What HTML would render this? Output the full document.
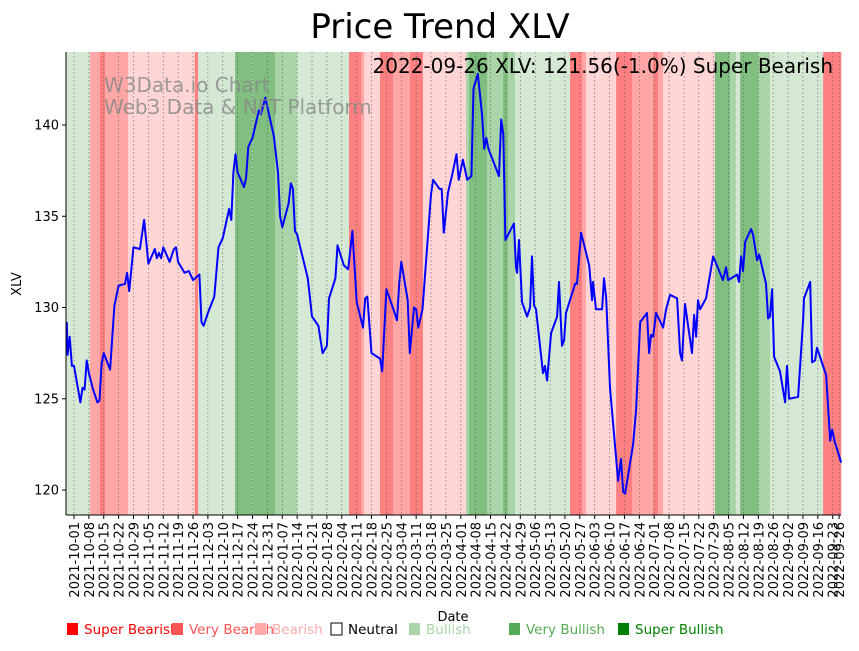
<!DOCTYPE html>
<html><head><meta charset="utf-8"><style>
body{margin:0;background:#fff;font-family:"Liberation Sans","DejaVu Sans",sans-serif}
svg text{font-family:"DejaVu Sans","Liberation Sans",sans-serif}
</style></head><body>
<svg id="c" width="859" height="646" xmlns="http://www.w3.org/2000/svg"></svg>
<script>
const startDate = new Date(Date.UTC(2021,9,1));
const priceDays = [-3.4,-3,-2,-1,0,3,4,5,6,7,9,11,12,13,14,17,19,21,24,25,26,28,31,33,35,38,39,40,41,42,45,47,48,49,52,54,56,59,60,61,63,66,68,70,73,74,75,76,77,80,81,82,84,87,88,90,94,96,97,98,101,102,103,104,105,110,112,115,117,119,120,123,124,127,129,131,133,136,137,138,140,144,145,147,150,152,153,154,157,158,160,161,162,164,168,169,172,173,174,176,178,180,181,183,185,187,188,190,192,193,194,195,200,201,202,203,207,208,208.5,209.4,210.8,213.2,214.6,215.5,216.5,217.4,220.7,221.6,222.6,224.5,227.3,228.2,229.6,230.6,231.5,235.8,236.7,238.6,242.4,243.8,244.2,245.6,248.5,249.4,250.4,252.2,256,257.4,258.4,259.3,263.1,264.5,266.4,269.6,270.6,271.5,272.5,273.9,277.2,278.6,280.5,283.8,285.2,286.1,287.5,290.8,291.8,292.7,293.6,294.6,297.4,300.7,305.4,306.8,307.8,312,312.9,313.9,314.8,315.8,318.6,319.5,321.4,322.4,325.6,326.6,327.5,328.5,329.4,332.2,334.6,335.5,336.5,340.7,343.1,343.5,346.4,347.3,348.7,349.6,353.9,355.8,356.7,358.1,361];
const priceValues = [129.2,127.4,128.4,126.8,126.8,124.8,125.6,125.5,127.1,126.4,125.5,124.8,124.9,126.9,127.5,126.6,130.1,131.2,131.3,131.9,130.9,133.3,133.2,134.8,132.4,133.2,132.7,133.0,132.7,133.3,132.5,133.2,133.3,132.5,131.9,132.0,131.5,131.8,129.2,129.0,129.7,130.6,133.3,133.8,135.4,134.8,137.4,138.4,137.4,136.6,137.1,138.8,139.3,140.8,140.6,141.5,139.4,137.4,135.0,134.4,135.7,136.8,136.5,134.2,134.0,131.6,129.5,129.0,127.5,127.9,130.5,131.6,133.4,132.3,132.1,134.2,130.3,128.9,130.5,130.6,127.5,127.2,126.5,131.0,130.0,129.3,131.3,132.5,130.4,127.5,130.0,129.9,128.9,129.9,136.2,137.0,136.5,136.5,134.1,136.3,137.3,138.4,137.0,138.1,137.0,137.2,142.0,142.8,140.6,138.7,139.3,138.7,137.2,140.3,139.5,133.7,134.6,132.2,131.9,133.7,130.3,129.5,130.0,132.8,130.1,129.9,126.4,126.8,126.0,128.6,129.5,131.4,127.9,128.2,129.7,131.3,131.3,134.1,132.3,130.4,131.4,129.9,129.9,131.6,130.5,125.6,120.5,121.7,119.9,119.8,122.5,124.4,129.2,129.7,127.5,128.5,128.4,129.7,128.9,129.9,130.7,130.5,127.5,127.1,130.2,127.5,129.6,128.4,130.4,129.9,130.5,132.8,131.5,132.2,131.5,131.8,131.4,132.8,132.0,133.6,134.3,134.0,132.6,132.9,131.3,129.4,129.5,131.0,127.3,126.5,124.8,126.8,125.0,125.1,129.4,130.5,131.4,127.0,127.1,127.8,126.3,122.7,123.3,122.6,121.5];
const bandStarts = [-3.8,7.5,12.2,14.6,25.4,56.9,58.4,75.8,83.8,84.2,94.6,104.9,129.4,135.1,136.5,144,150.1,158.1,164.2,184.5,185.9,194.4,201.9,204.2,207.5,233.4,239.1,240.9,255.1,262.6,272.5,274.8,277.2,301.6,308.7,311.5,313.4,321.9,327.5,352.5];
const bandLevels = [1,-2,-3,-2,-1,-3,1,3,2,3,2,1,-3,-2,-1,-3,-2,-3,-1,2,3,2,3,2,1,-3,-2,-1,-3,-2,-3,-2,-1,3,2,1,3,2,1,-3];
const yTicks = [120,125,130,135,140];
const legendLabels = ["Super Bearish","Very Bearish","Bearish","Neutral","Bullish","Very Bullish","Super Bullish"];

const NS="http://www.w3.org/2000/svg";
const svg=document.getElementById('c');
const L=66,R=841,T=52,B=515;
const X0=-3.76,X1=360.9;
const xs=d=>L+(d-X0)/(X1-X0)*(R-L);
const ys=v=>490-(v-120)*18.25;
function mk(tag,attrs,parent){const e=document.createElementNS(NS,tag);for(const k in attrs)e.setAttribute(k,attrs[k]);(parent||svg).appendChild(e);return e;}
const bandColor={"-3":"#ff8080","-2":"#ffa6a6","-1":"#ffd5d5","0":"#ffffff","1":"#d4e8d4","2":"#a8d4a8","3":"#80bf80"};

const bg=mk('g',{});


for(let i=0;i<bandStarts.length;i++){
  const s=bandStarts[i], e=i+1<bandStarts.length?bandStarts[i+1]:X1;
  const r=mk('rect',{x:xs(s),y:T,width:xs(e)-xs(s)+0.3,height:B-T,fill:bandColor[bandLevels[i]]},bg);
  
  
}
const tickDays=[];for(let d=0;d<=357;d+=7)tickDays.push(d);tickDays.push(360);
const fmt=d=>{const t=new Date(startDate.getTime()+d*86400000);return t.toISOString().slice(0,10);};
const grid=mk('g',{});


tickDays.forEach(d=>{
  mk('line',{x1:xs(d),x2:xs(d),y1:T,y2:B,stroke:'#555','stroke-width':0.7,'stroke-dasharray':'1.5,2.5',opacity:0.8},grid);
  mk('line',{x1:xs(d),x2:xs(d),y1:B,y2:B+4,stroke:'#000','stroke-width':1},grid);
  const t=mk('text',{x:0,y:0,'font-size':13,'text-anchor':'end',transform:`translate(${xs(d)+5},${B+7}) rotate(-90)`});
  t.textContent=fmt(d);
  
  
});
yTicks.forEach(v=>{
  mk('line',{x1:L-4,x2:L,y1:ys(v),y2:ys(v),stroke:'#000'});
  const t=mk('text',{x:L-7,y:ys(v)+4.5,'font-size':13,'text-anchor':'end'});
  t.textContent=v;
  
  
});
const pts=priceDays.map((d,i)=>xs(d).toFixed(1)+','+ys(priceValues[i]).toFixed(1)).join(' ');
const pl=mk('polyline',{points:pts,fill:'none',stroke:'#0000ff','stroke-width':2,'stroke-linejoin':'round'});


mk('line',{x1:L,x2:L,y1:T,y2:B,stroke:'#000','stroke-width':1});
mk('line',{x1:L,x2:R,y1:B,y2:B,stroke:'#000','stroke-width':1});
function txt(s,a,name){const t=mk('text',a);t.textContent=s;return t;}
txt('Price Trend XLV',{x:440,y:38,'font-size':34,'text-anchor':'middle'},'chart-title');
txt('2022-09-26 XLV: 121.56(-1.0%) Super Bearish',{x:833,y:73,'font-size':20,'text-anchor':'end'},'latest-price-annotation');
txt('W3Data.io Chart',{x:104,y:92,'font-size':20,fill:'#888',opacity:0.8},'watermark-line1');
txt('Web3 Data & NFT Platform',{x:104,y:114,'font-size':20,fill:'#888',opacity:0.8},'watermark-line2');
txt('XLV',{x:0,y:0,'font-size':13,'text-anchor':'middle',transform:'translate(21,284) rotate(-90)'},'y-axis-title');
txt('Date',{x:453,y:621,'font-size':13,'text-anchor':'middle'},'x-axis-title');
const legX=[66,171,254,330,408,508,617];
const legC=['#ff0000','#ff5555','#ffaaaa','#ffffff','#aad4aa','#55aa55','#008000'];
const legT=['#ff0000','#ff5555','#ffaaaa','#000000','#aad4aa','#55aa55','#008000'];
legendLabels.forEach((s,i)=>{
  const g=mk('g',{});
  
  
  mk('rect',{x:legX[i]+1,y:623,width:11,height:12,fill:legC[i],stroke:i==3?'#000':'none'},g);
  const t=mk('text',{x:legX[i]+18,y:634,'font-size':13.5,fill:legT[i],'font-family':'Liberation Sans, sans-serif'},g);
  t.textContent=s;
});
</script>
</body></html>
